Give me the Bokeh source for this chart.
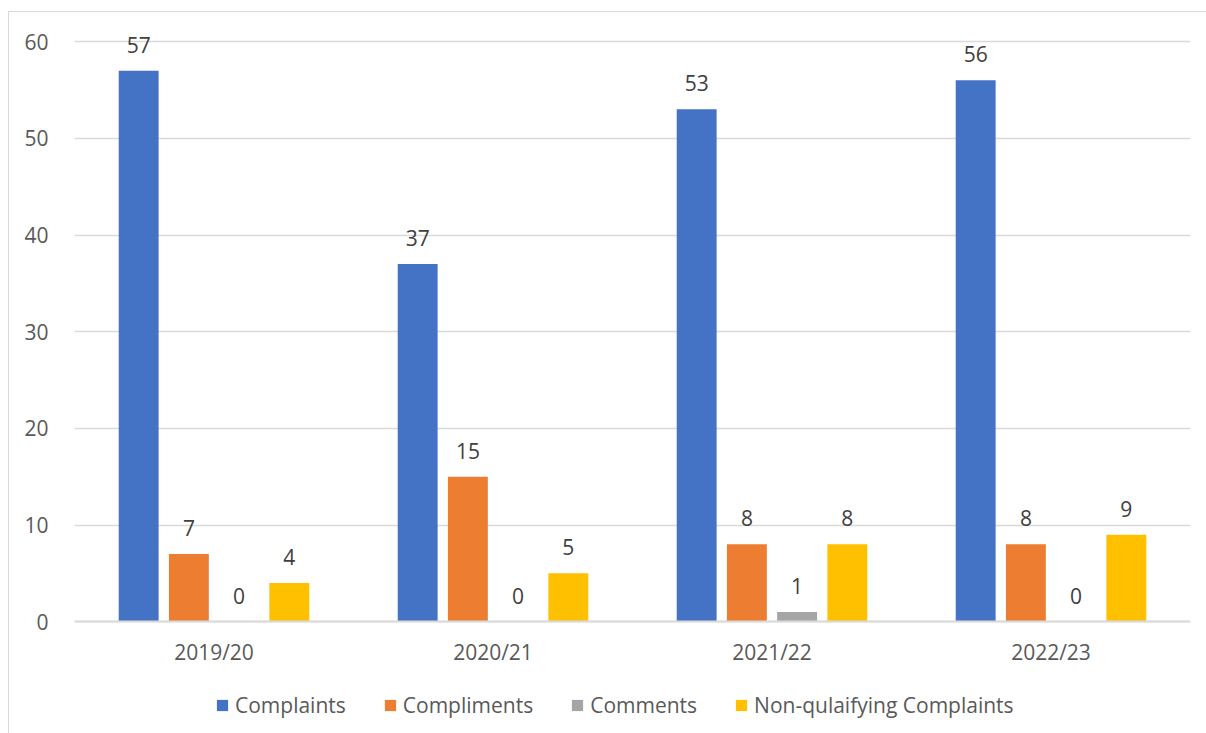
from bokeh.plotting import figure
from bokeh.models import ColumnDataSource, FactorRange, Legend, LegendItem, FixedTicker
from bokeh.transform import dodge
from bokeh.core.properties import value
from bokeh.embed import file_html
from bokeh.resources import INLINE

categories = ["2019/20", "2020/21", "2021/22", "2022/23"]
complaints = [57, 37, 53, 56]
compliments = [7, 15, 8, 8]
comments = [0, 0, 1, 0]
non_qualifying = [4, 5, 8, 9]
y_ticks = [0, 10, 20, 30, 40, 50, 60]

series = [
    ("Complaints", complaints, "#4472C4", -0.27),
    ("Compliments", compliments, "#ED7D31", -0.09),
    ("Comments", comments, "#A5A5A5", 0.09),
    ("Non-qulaifying Complaints", non_qualifying, "#FFC000", 0.27),
]

FONT = "Open Sans"
FS = "21px"

p = figure(x_range=FactorRange(*categories), y_range=(-10.84, 62.5),
           frame_width=1116, frame_height=709,
           output_backend="svg", toolbar_location=None,
           min_border_left=65, min_border_top=5, min_border_right=17, min_border_bottom=10,
           margin=(11, 0, 0, 8),
           styles={"border-left": "1px solid #d9d9d9", "border-top": "1px solid #d9d9d9"})
p.outline_line_color = None
p.background_fill_color = "white"
p.border_fill_color = "white"

items = []
for name, vals, color, off in series:
    src = ColumnDataSource(dict(cat=categories, v=vals, lbl=[str(x) for x in vals]))
    r = p.vbar(x=dodge("cat", off, range=p.x_range), top="v", bottom=0, width=0.143, source=src,
               fill_color=color, line_color=None)
    p.text(x=dodge("cat", off, range=p.x_range), y="v", text="lbl", source=src,
           text_align="center", text_baseline="bottom", y_offset=-18,
           text_font=value(FONT), text_font_size=FS, text_color="#404040")
    items.append(LegendItem(label=name, renderers=[r]))

p.yaxis.ticker = FixedTicker(ticks=y_ticks)
p.yaxis.axis_line_color = None
p.yaxis.major_tick_line_color = None
p.yaxis.minor_tick_line_color = None
p.yaxis.major_label_text_font = FONT
p.yaxis.major_label_text_font_size = FS
p.yaxis.major_label_text_color = "#595959"
p.yaxis.major_label_standoff = 20

p.xaxis.fixed_location = 0
p.xaxis.axis_line_color = "#d9d9d9"
p.xaxis.axis_line_width = 2
p.xaxis.major_tick_line_color = None
p.xaxis.minor_tick_line_color = None
p.xaxis.major_label_text_font = FONT
p.xaxis.major_label_text_font_size = FS
p.xaxis.major_label_text_color = "#595959"
p.xaxis.major_label_standoff = 10

p.xgrid.grid_line_color = None
p.ygrid.grid_line_color = "#d9d9d9"
p.ygrid.grid_line_width = 1.5

legend = Legend(items=items, orientation="horizontal", location=(141, 7),
                label_text_font=FONT, label_text_font_size=FS, label_text_color="#595959",
                glyph_width=14, glyph_height=14, spacing=37, label_standoff=6,
                border_line_color=None, background_fill_alpha=0, margin=0, padding=0)
p.add_layout(legend, "center")

open("out.html", "w").write(file_html(p, INLINE))
